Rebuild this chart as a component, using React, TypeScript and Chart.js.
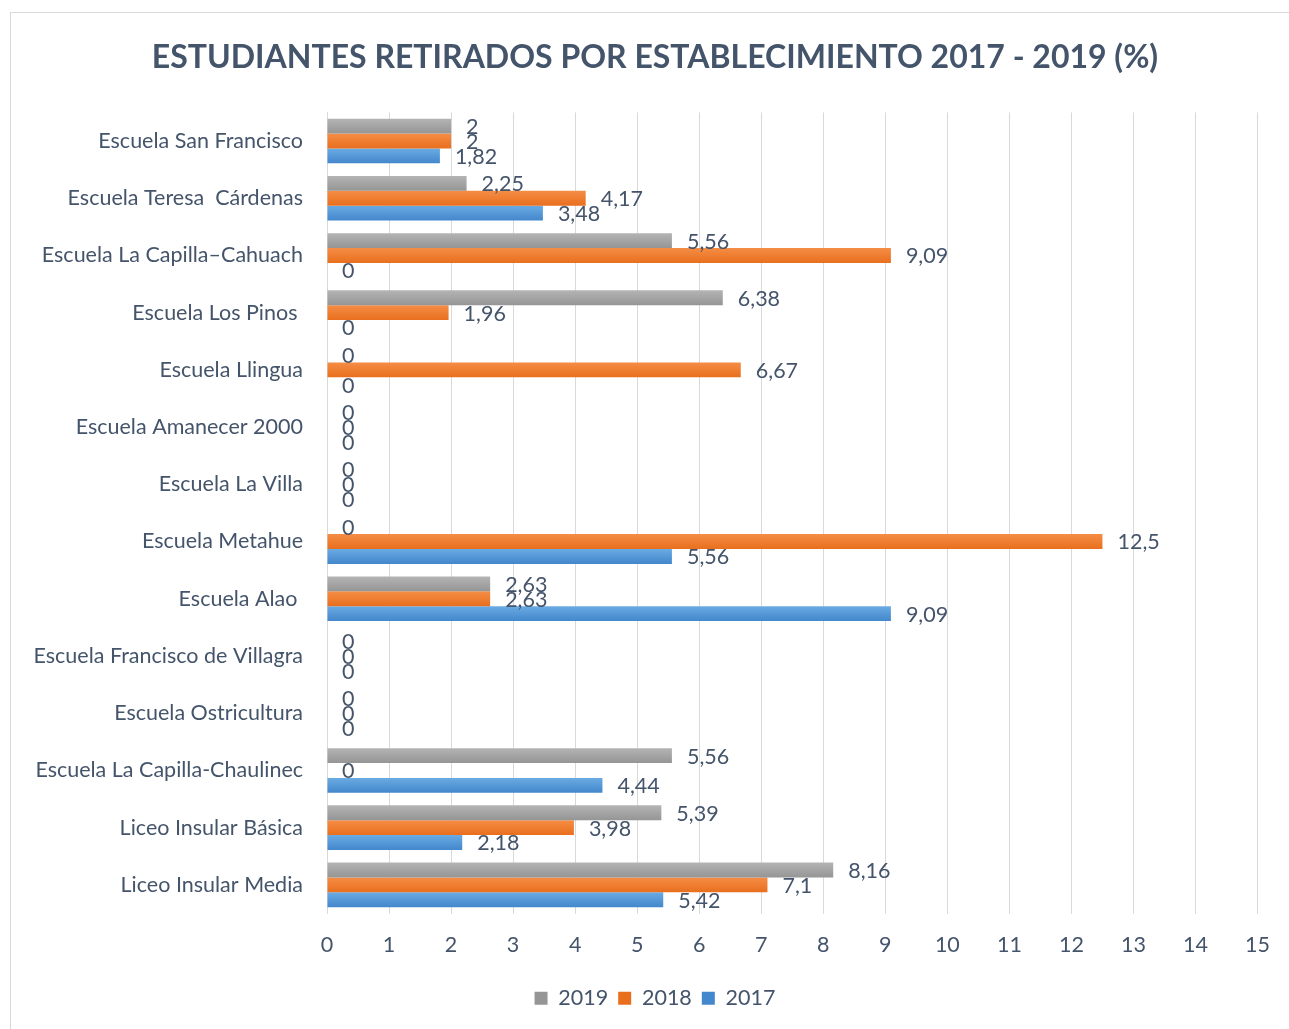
import React, { useEffect, useRef } from "react";
import { Chart, registerables } from "chart.js";

Chart.register(...registerables);

const TITLE = "ESTUDIANTES RETIRADOS POR ESTABLECIMIENTO 2017 - 2019 (%)";

const categories = [
  "Escuela San Francisco",
  "Escuela Teresa  Cárdenas",
  "Escuela La Capilla–Cahuach",
  "Escuela Los Pinos ",
  "Escuela Llingua",
  "Escuela Amanecer 2000",
  "Escuela La Villa",
  "Escuela Metahue",
  "Escuela Alao ",
  "Escuela Francisco de Villagra",
  "Escuela Ostricultura",
  "Escuela La Capilla-Chaulinec",
  "Liceo Insular Básica",
  "Liceo Insular Media",
];

const seriesNames = ["2019", "2018", "2017"];
const values2019 = [2, 2.25, 5.56, 6.38, 0, 0, 0, 0, 2.63, 0, 0, 5.56, 5.39, 8.16];
const values2018 = [2, 4.17, 9.09, 1.96, 6.67, 0, 0, 12.5, 2.63, 0, 0, 0, 3.98, 7.1];
const values2017 = [1.82, 3.48, 0, 0, 0, 0, 0, 5.56, 9.09, 0, 0, 4.44, 2.18, 5.42];

const xMin = 0;
const xMax = 15;
const xStep = 1;

const FONT = "Lato, 'Open Sans', sans-serif";
const TEXT = "#44546A";
const FS = 21.5;

const palette = [
  { top: "#B4B4B4", bottom: "#959595" },
  { top: "#F58D45", bottom: "#E86F1E" },
  { top: "#6AABE3", bottom: "#4387CC" },
];

const CAT_PCT = 0.78;

function gradientFor(ctx: any) {
  const chart = ctx.chart;
  const pal = palette[ctx.datasetIndex];
  const y = chart.scales && chart.scales.y;
  if (!y || ctx.dataIndex === undefined || !isFinite(y.getPixelForValue(ctx.dataIndex))) {
    return pal.top;
  }
  const center = y.getPixelForValue(ctx.dataIndex);
  const band = Math.abs(y.getPixelForValue(1) - y.getPixelForValue(0)) || 50;
  const bw = (band * CAT_PCT) / 3;
  const barTop = center - (band * CAT_PCT) / 2 + ctx.datasetIndex * bw;
  const g = chart.ctx.createLinearGradient(0, barTop, 0, barTop + bw);
  g.addColorStop(0, pal.top);
  g.addColorStop(1, pal.bottom);
  return g;
}

const framePlugin = {
  id: "frame",
  beforeDraw(chart: any) {
    const c = chart.ctx;
    c.save();
    c.fillStyle = "#ffffff";
    c.fillRect(0, 0, chart.width, chart.height);
    c.strokeStyle = "#D9D9D9";
    c.lineWidth = 1;
    c.strokeRect(10.5, 12.5, chart.width + 20, chart.height + 20);
    c.restore();
  },
};

const labelPlugin = {
  id: "valueLabels",
  afterDatasetsDraw(chart: any) {
    const c = chart.ctx;
    c.save();
    c.font = `${FS}px ${FONT}`;
    c.fillStyle = TEXT;
    c.textAlign = "left";
    c.textBaseline = "middle";
    chart.data.datasets.forEach((ds: any, di: number) => {
      const meta = chart.getDatasetMeta(di);
      meta.data.forEach((el: any, i: number) => {
        const v = ds.data[i];
        const txt = String(v).replace(".", ",");
        c.fillText(txt, el.x + 15, el.y + 1);
      });
    });
    c.restore();
  },
};

export default function App() {
  const ref = useRef<HTMLCanvasElement | null>(null);

  useEffect(() => {
    document.body.style.margin = "0";
    document.body.style.overflow = "hidden";
    if (!ref.current) return;
    const seriesValues = [values2019, values2018, values2017];
    const chart = new Chart(ref.current, {
      type: "bar",
      data: {
        labels: categories,
        datasets: seriesNames.map((name, i) => ({
          label: name,
          data: seriesValues[i],
          backgroundColor: gradientFor,
          borderWidth: 0,
          categoryPercentage: CAT_PCT,
          barPercentage: 1,
        })),
      },
      options: {
        indexAxis: "y",
        responsive: false,
        animation: false,
        devicePixelRatio: 1,
        layout: { padding: { left: 51, right: 30, top: 0, bottom: 10 } },
        plugins: {
          title: {
            display: true,
            text: TITLE,
            color: TEXT,
            font: { family: FONT, size: 32, weight: "bold" },
            padding: { top: 38, bottom: 36 },
          },
          legend: {
            display: true,
            position: "bottom",
            labels: {
              color: TEXT,
              font: { family: FONT, size: FS },
              boxWidth: 13,
              boxHeight: 13,
              padding: 10,
            },
          },
          tooltip: { enabled: false },
        },
        scales: {
          x: {
            type: "linear",
            min: xMin,
            max: xMax,
            ticks: {
              stepSize: xStep,
              color: TEXT,
              font: { family: FONT, size: FS },
              padding: 19,
            },
            grid: { color: "#D9D9D9", lineWidth: 1, drawTicks: false },
            border: { display: false },
            afterFit: (s: any) => {
              s.height = 64;
            },
          },
          y: {
            type: "category",
            ticks: {
              color: TEXT,
              font: { family: FONT, size: FS },
              padding: 24,
              autoSkip: false,
            },
            grid: { display: false, drawTicks: false },
            border: { display: true, color: "#D9D9D9" },
            afterFit: (s: any) => {
              s.width = 276;
            },
            afterUpdate: (s: any) => {
              s._computeLabelArea = () => undefined;
            },
          },
        },
      },
      plugins: [framePlugin, labelPlugin],
    });
    return () => chart.destroy();
  }, []);

  return (
    <div style={{ width: 1289, height: 1029 }}>
      <canvas ref={ref} width={1289} height={1029} style={{ display: "block" }} />
    </div>
  );
}
